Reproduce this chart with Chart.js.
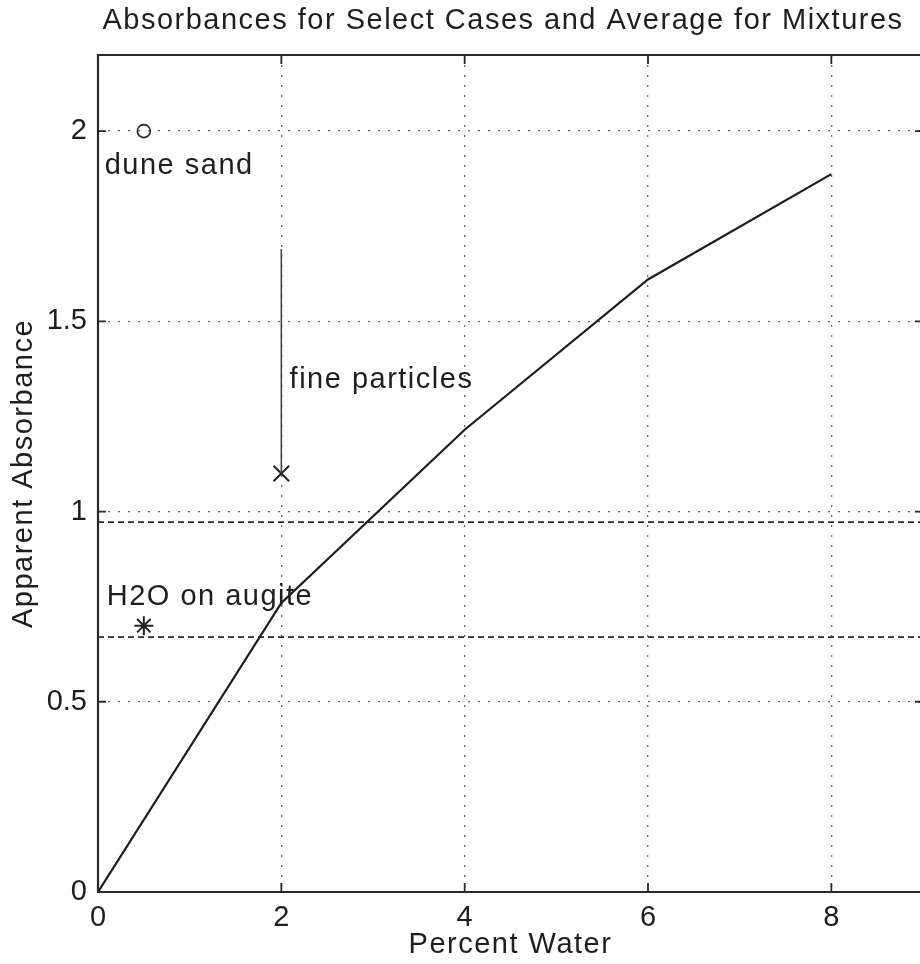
<!DOCTYPE html>
<html><head><meta charset="utf-8">
<script src="https://cdn.jsdelivr.net/npm/chart.js@4.4.1/dist/chart.umd.min.js"></script>
<style>
html,body{margin:0;padding:0;background:#fff;overflow:hidden;width:920px;height:964px;}
#wrap{width:940px;height:964px;}
canvas{display:block;}
</style></head><body>
<div id="wrap"><canvas id="c" width="940" height="964"></canvas></div>
<script>
// ---- data ----
const xTicks = [0, 2, 4, 6, 8];
const yTicks = [0, 0.5, 1, 1.5, 2];
const mixWater = [0, 2, 4, 6, 8];
const mixAbsorbance = [0, 0.76, 1.215, 1.61, 1.887];
const caseNames = ['dune sand', 'fine particles', 'H2O on augite'];
const caseWater = [0.5, 2, 0.5];
const caseAbsorbance = [2.0, 1.1, 0.7];
const fineLeaderTop = 1.69;
const refLevels = [0.972, 0.670];
const xRange = [0, 9];
const yRange = [0, 2.2];

const FONT = "'Liberation Sans', Arial, Helvetica, sans-serif";
const TXT = '#1e1e1e';
const SPACING = '1.5px';

// label placement (offsets in data units from each case point to text start / baseline)
const labelPlace = [
  {dx: -0.427, dy: -0.113},
  {dx: 0.09, dy: 0.224},
  {dx: -0.405, dy: 0.055}
];

const pt = (xs, ys) => xs.map((x, i) => ({x, y: ys[i]}));

const datasets = [
  {data: pt(mixWater, mixAbsorbance), showLine: true, borderColor: '#1c1c1c', borderWidth: 2.2, pointRadius: 0, tension: 0},
  ...refLevels.map(v => ({data: [{x: xRange[0], y: v}, {x: xRange[1], y: v}], showLine: true, borderColor: '#2a2a2a', borderWidth: 1.7, borderDash: [6, 4], pointRadius: 0})),
  {data: [{x: caseWater[1], y: fineLeaderTop}, {x: caseWater[1], y: caseAbsorbance[1]}], showLine: true, borderColor: '#444', borderWidth: 1.6, pointRadius: 0},
  {data: [{x: caseWater[0], y: caseAbsorbance[0]}], pointStyle: 'circle', pointRadius: 6.5, borderColor: '#222', backgroundColor: 'rgba(0,0,0,0)', pointBorderWidth: 1.6, showLine: false},
  {data: [{x: caseWater[1], y: caseAbsorbance[1]}], pointStyle: 'crossRot', pointRadius: 11, borderColor: '#222', pointBorderWidth: 2, showLine: false},
  {data: [{x: caseWater[2], y: caseAbsorbance[2]}], pointStyle: 'star', pointRadius: 9.5, borderColor: '#222', pointBorderWidth: 2, showLine: false}
];

const decor = {
  id: 'decor',
  beforeDraw(chart) {
    for (const id of ['x', 'y']) {
      const s = chart.scales[id];
      if (s && !s._patched) {
        const orig = s.drawTitle;
        s.drawTitle = function () {
          const ctx = this.ctx; ctx.save(); ctx.letterSpacing = SPACING; orig.apply(this, arguments); ctx.restore();
        };
        s._patched = true;
      }
    }
  },
  afterDraw(chart) {
    const {ctx, chartArea: a, scales: {x, y}} = chart;
    ctx.save();
    ctx.setLineDash([]);
    // box lines
    ctx.strokeStyle = '#2a2a2a'; ctx.lineWidth = 2.2;
    ctx.beginPath();
    ctx.moveTo(a.left, a.top); ctx.lineTo(a.right, a.top); ctx.lineTo(a.right, a.bottom);
    ctx.lineTo(a.left, a.bottom); ctx.closePath();
    ctx.stroke();
    // inward ticks
    ctx.lineWidth = 1.8;
    ctx.beginPath();
    xTicks.forEach(v => {
      const px = x.getPixelForValue(v);
      ctx.moveTo(px, a.bottom); ctx.lineTo(px, a.bottom - 9);
      ctx.moveTo(px, a.top); ctx.lineTo(px, a.top + 9);
    });
    yTicks.forEach(v => {
      const py = y.getPixelForValue(v);
      ctx.moveTo(a.left, py); ctx.lineTo(a.left + 8, py);
      ctx.moveTo(a.right, py); ctx.lineTo(a.right - 8, py);
    });
    ctx.stroke();
    // text
    ctx.letterSpacing = SPACING;
    ctx.fillStyle = TXT;
    ctx.font = '29px ' + FONT;
    ctx.textBaseline = 'alphabetic';
    ctx.textAlign = 'left';
    caseNames.forEach((n, i) => {
      ctx.fillText(n, x.getPixelForValue(caseWater[i] + labelPlace[i].dx), y.getPixelForValue(caseAbsorbance[i] + labelPlace[i].dy));
    });
    ctx.textAlign = 'center';
    ctx.fillText('Absorbances for Select Cases and Average for Mixtures', 503, 29);
    ctx.restore();
  }
};

const tickFont = {size: 29, family: FONT};
const gridOpts = {drawTicks: false, color: '#666', lineWidth: 1.3};
const borderOpts = {display: false, dash: [2, 8], dashOffset: 0};
new Chart(document.getElementById('c'), {
  type: 'scatter',
  data: {datasets},
  options: {
    responsive: false,
    animation: false,
    layout: {padding: {top: 55, right: 17, left: 0, bottom: 0}},
    plugins: {legend: {display: false}, tooltip: {enabled: false}, title: {display: false}},
    scales: {
      x: {
        type: 'linear', min: xRange[0], max: xRange[1],
        afterFit: s => { s.height = 72; },
        afterBuildTicks: s => { s.ticks = xTicks.map(v => ({value: v})); },
        ticks: {font: tickFont, color: TXT, padding: 9, maxRotation: 0},
        grid: gridOpts,
        border: borderOpts,
        title: {display: true, text: 'Percent Water', color: TXT, font: {size: 29, family: FONT, lineHeight: 1}, padding: {top: 0, bottom: 4.5}}
      },
      y: {
        type: 'linear', min: yRange[0], max: yRange[1],
        afterFit: s => { s.width = 98; },
        afterBuildTicks: s => { s.ticks = yTicks.map(v => ({value: v})); },
        ticks: {font: tickFont, color: TXT, padding: 11, callback: v => String(v)},
        grid: gridOpts,
        border: borderOpts,
        title: {display: true, text: 'Apparent Absorbance', color: TXT, font: {size: 29, family: FONT, lineHeight: 1}, padding: {top: 9, bottom: 0}}
      }
    }
  },
  plugins: [decor]
});
</script>
</body></html>
